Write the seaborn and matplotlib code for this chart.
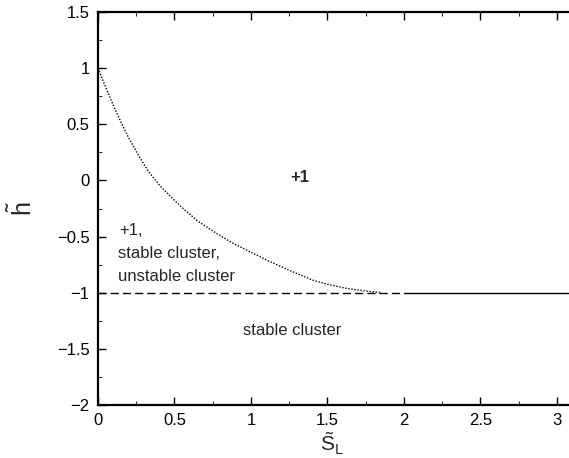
import matplotlib
matplotlib.use("Agg")
import matplotlib.pyplot as plt
import seaborn as sns
from matplotlib.ticker import MultipleLocator

# boundary curve (dotted)
curve_x = [0.0, 0.05, 0.1, 0.15, 0.2, 0.275, 0.33, 0.4, 0.48, 0.54, 0.65, 0.75,
           0.87, 1.0, 1.12, 1.25, 1.4, 1.5, 1.62, 1.75, 1.85]
curve_y = [1.0, 0.83, 0.67, 0.52, 0.38, 0.2, 0.08, -0.04, -0.15, -0.23, -0.36, -0.45,
           -0.55, -0.64, -0.72, -0.80, -0.886, -0.925, -0.96, -0.985, -1.0]
# h = -1 line: dashed part and solid part
dash_x = [0.0, 2.0]
dash_y = [-1.0, -1.0]
solid_x = [2.0, 3.1]
solid_y = [-1.0, -1.0]

xticks = [0, 0.5, 1, 1.5, 2, 2.5, 3]
xticklabels = ["0", "0.5", "1", "1.5", "2", "2.5", "3"]
yticks = [-2, -1.5, -1, -0.5, 0, 0.5, 1, 1.5]
yticklabels = ["\u22122", "\u22121.5", "\u22121", "\u22120.5", "0", "0.5", "1", "1.5"]

sns.set_style("ticks")
plt.rcParams["font.family"] = ["Liberation Sans", "DejaVu Sans"]
plt.rcParams["mathtext.fontset"] = "custom"
plt.rcParams["mathtext.rm"] = "Liberation Sans"
plt.rcParams["mathtext.it"] = "Liberation Sans"
plt.rcParams["mathtext.bf"] = "Liberation Sans:bold"

fig = plt.figure(figsize=(5.69, 4.58), dpi=100)
ax = fig.add_axes([98 / 569, 1 - 405 / 458, 1 - 98 / 569, (405 - 12) / 458])

sns.lineplot(x=curve_x, y=curve_y, ax=ax, color="black", linewidth=1.0,
             linestyle=(0, (1, 1.2)), sort=False)
sns.lineplot(x=dash_x, y=dash_y, ax=ax, color="black", linewidth=1.0,
             linestyle=(0, (5.8, 3)), sort=False)
sns.lineplot(x=solid_x, y=solid_y, ax=ax, color="black", linewidth=1.0, sort=False)

ax.set_xlim(0, 3.08)
ax.set_ylim(-2, 1.5)
ax.set_xticks(xticks)
ax.set_xticklabels(xticklabels)
ax.set_yticks(yticks)
ax.set_yticklabels(yticklabels)
ax.xaxis.set_minor_locator(MultipleLocator(0.25))
ax.yaxis.set_minor_locator(MultipleLocator(0.25))
ax.tick_params(which="both", direction="in", top=True, right=False,
               labelsize=12, colors="black")
ax.tick_params(which="major", length=6, width=1.0, pad=6)
ax.tick_params(which="minor", length=3, width=0.6)

for s in ["left", "bottom", "top"]:
    ax.spines[s].set_linewidth(1.6)
    ax.spines[s].set_color("black")
ax.spines["right"].set_visible(False)

ax.set_xlabel(r"$\tilde{\mathrm{S}}_\mathrm{L}$", fontsize=15)
ax.xaxis.set_label_coords(0.497, -0.066)
ax.set_ylabel(r"$\tilde{\mathrm{h}}$", fontsize=18)
ax.yaxis.set_label_coords(-0.13, 0.5)

ax.text(1.32, 0.03, "+1", fontsize=12, ha="center", va="center", fontweight="bold")
ax.text(0.14, -0.45, "+1,", fontsize=12, ha="left", va="center")
ax.text(0.13, -0.655, "stable cluster,", fontsize=12, ha="left", va="center")
ax.text(0.13, -0.86, "unstable cluster", fontsize=12, ha="left", va="center")
ax.text(1.27, -1.34, "stable cluster", fontsize=12, ha="center", va="center")

fig.savefig("out.png", dpi=100)
